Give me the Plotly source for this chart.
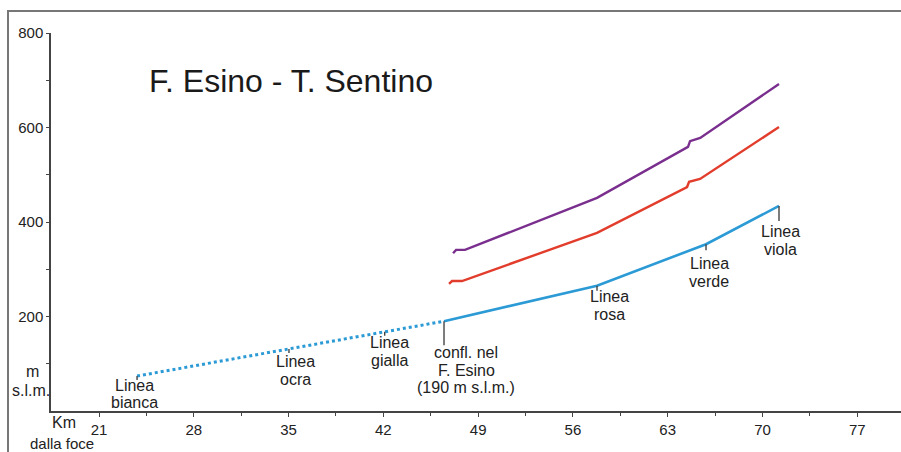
import plotly.graph_objects as go

# Longitudinal profile: distance from the mouth (km) vs elevation (m a.s.l.)
km_blu_dotted = [23.81, 46.48]
m_blu_dotted = [74, 190]

km_blu = [46.48, 57.78, 65.83, 71.22]
m_blu = [190, 265, 353, 434]

km_rosso = [46.85, 47.07, 47.81, 57.78, 64.43, 64.58, 65.39, 71.22]
m_rosso = [269, 275, 275, 377, 474, 485, 491, 601]

km_viola = [47.15, 47.37, 48.03, 57.78, 64.50, 64.65, 65.40, 71.22]
m_viola = [334, 341, 341, 451, 559, 571, 578, 692]

x_ticks = [21, 28, 35, 42, 49, 56, 63, 70, 77]
y_ticks = [200, 400, 600, 800]

# Labelled points along the lower profile
label_texts = [
    ["Linea", "bianca"],
    ["Linea", "ocra"],
    ["Linea", "gialla"],
    ["confl. nel", "F. Esino", "(190 m s.l.m.)"],
    ["Linea", "rosa"],
    ["Linea", "verde"],
    ["Linea", "viola"],
]
label_km = [23.81, 35.03, 42.10, 46.48, 57.78, 65.83, 71.22]
label_m = [74, 131.4, 167.6, 190, 265, 353, 434]

# Pixel styling for the labels: leader length, text x offset, first-line y offset
leader_px = [4, 4, 4, 24, 5, 6, 15]
text_dx = [-3, 7, 5, 22, 12, 3, 1]
text_dy = [9, 13, 11, 31, 11, 19, 26]
LINE_STEP = 17.8

W, H = 901, 452
ML, MR, MT, MB = 51, 0, 33, 41
PLOT_W = W - ML - MR
PLOT_H = H - MT - MB
Y_RANGE = [0, 800]
PX_PER_M = PLOT_H / (Y_RANGE[1] - Y_RANGE[0])
X_RANGE = [17.455, 80.23]

FONT = "Liberation Sans, Arial, sans-serif"
TXT = "#222222"
AXC = "#444444"
BLUE = "#2b9ad5"
RED = "#e23d2c"
PURPLE = "#7a2f8e"
LABEL_SIZE = 16


def px_x(px):
    return (px - ML) / PLOT_W


def px_y(py):
    return (H - MB - py) / PLOT_H


fig = go.Figure()

fig.add_trace(go.Scatter(x=km_blu_dotted, y=m_blu_dotted, mode="lines",
                         line=dict(color=BLUE, width=3, dash="dot"),
                         hoverinfo="skip"))
fig.add_trace(go.Scatter(x=km_blu, y=m_blu, mode="lines",
                         line=dict(color=BLUE, width=2.6), hoverinfo="skip"))
fig.add_trace(go.Scatter(x=km_rosso, y=m_rosso, mode="lines",
                         line=dict(color=RED, width=2.4), hoverinfo="skip"))
fig.add_trace(go.Scatter(x=km_viola, y=m_viola, mode="lines",
                         line=dict(color=PURPLE, width=2.4), hoverinfo="skip"))

# Leader lines from the profile down to each label
for k, m, L in zip(label_km, label_m, leader_px):
    fig.add_trace(go.Scatter(x=[k, k], y=[m, m - L / PX_PER_M], mode="lines",
                             line=dict(color=AXC, width=1.4), hoverinfo="skip"))

annotations = []
for lines, k, m, dx, dy in zip(label_texts, label_km, label_m, text_dx, text_dy):
    for i, t in enumerate(lines):
        annotations.append(dict(
            x=k, y=m, xref="x", yref="y", text=t, showarrow=False,
            xanchor="center", yanchor="middle",
            xshift=dx, yshift=-(dy + i * LINE_STEP),
            font=dict(family=FONT, size=LABEL_SIZE, color=TXT)))

annotations.append(dict(x=px_x(291), y=px_y(81), xref="paper", yref="paper",
                        text="F. Esino - T. Sentino", showarrow=False,
                        xanchor="center", yanchor="middle",
                        font=dict(family=FONT, size=32, color="#1a1a1a")))
for t, cx, cy, fs in [("m", 32, 371, LABEL_SIZE), ("s.l.m.", 31, 390, LABEL_SIZE),
                      ("Km", 64, 422, LABEL_SIZE), ("dalla foce", 62, 443, 15)]:
    annotations.append(dict(x=px_x(cx), y=px_y(cy), xref="paper", yref="paper",
                            text=t, showarrow=False, xanchor="center",
                            yanchor="middle",
                            font=dict(family=FONT, size=fs, color=TXT)))

fig.update_layout(
    width=W, height=H,
    margin=dict(l=ML, r=MR, t=MT, b=MB, pad=0),
    paper_bgcolor="white", plot_bgcolor="white",
    showlegend=False,
    annotations=annotations,
    shapes=[dict(type="rect", xref="paper", yref="paper",
                 x0=px_x(8), x1=px_x(W + 20), y0=px_y(H + 20), y1=px_y(11),
                 line=dict(color="#777777", width=2), layer="below")],
    xaxis=dict(range=X_RANGE, showgrid=False, zeroline=False,
               showline=True, linecolor=AXC, linewidth=1.5,
               tickmode="array", tickvals=x_ticks,
               ticktext=[str(v) for v in x_ticks],
               ticks="outside", ticklen=4, tickwidth=1.3, tickcolor=AXC,
               minor=dict(tickmode="array",
                          tickvals=[v + 3.5 for v in x_ticks],
                          ticks="outside", ticklen=3, tickwidth=1.3,
                          tickcolor=AXC, showgrid=False),
               tickfont=dict(family=FONT, size=15, color=TXT)),
    yaxis=dict(range=Y_RANGE, showgrid=False, zeroline=False,
               showline=True, linecolor=AXC, linewidth=1.5,
               tickmode="array", tickvals=y_ticks,
               ticktext=[str(v) for v in y_ticks],
               ticks="outside", ticklen=3, tickwidth=1.3, tickcolor=AXC,
               minor=dict(tickmode="array",
                          tickvals=[v - 100 for v in y_ticks],
                          ticks="outside", ticklen=3, tickwidth=1.3,
                          tickcolor=AXC, showgrid=False),
               tickfont=dict(family=FONT, size=15, color=TXT)),
)

fig.write_html("out.html")
